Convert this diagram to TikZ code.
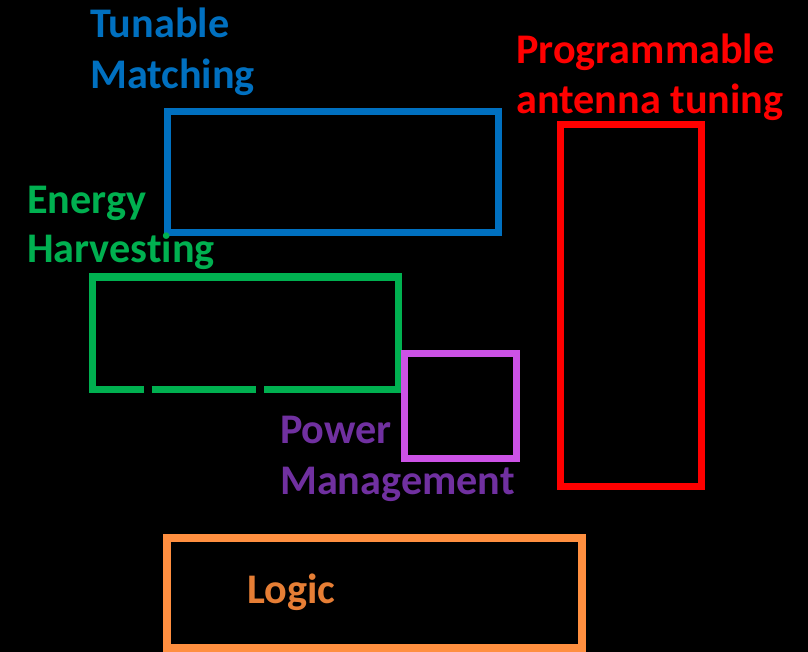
\documentclass[tikz,border=0pt]{standalone}
\usepackage{fontspec}
\setmainfont{Carlito}[Ligatures=NoCommon]
\definecolor{cblue}{HTML}{0070C0}
\definecolor{cred}{HTML}{FF0000}
\definecolor{cgreen}{HTML}{00B050}
\definecolor{cpurplebox}{HTML}{CC52E6}
\definecolor{cpurpletxt}{HTML}{7030A0}
\definecolor{corangebox}{HTML}{FF8F40}
\definecolor{corangetxt}{HTML}{E67E35}
\begin{document}
\begin{tikzpicture}[x=1pt,y=-1pt,
  lbl/.style={inner sep=0pt,anchor=base west,font=\fontsize{42.2}{50}\selectfont\bfseries},
  frame/.style={line width=7pt,miter limit=10}]
\fill[black] (0,0) rectangle (808,652);
\useasboundingbox (0,0) rectangle (808,652);
% boxes
\draw[frame,cblue] (167.5,111.5) rectangle (498.5,232.5);
\draw[frame,cred] (560.5,124.5) rectangle (701.5,486.5);
\draw[frame,cgreen] (144,389) -- (92,389) -- (92,277) -- (398,277) -- (398,389) -- (264,389);
\draw[frame,cgreen] (151.7,389) -- (256,389);
\draw[frame,cpurplebox] (404,353) rectangle (516.5,458);
\draw[frame,corangebox,line width=8pt] (166.5,537.5) rectangle (582,647.5);
% labels
\node[lbl,text=cblue] (tm1) at (90,38) {Tunable};
\node[lbl,text=cblue] (tm2) at (90,89) {Matching};
\node[lbl,text=cred] (pa1) at (516,64) {Programmable};
\node[lbl,text=cred] (pa2) at (516,114) {antenna tuning};
\node[lbl,text=cgreen] (eh1) at (27,214) {Energy};
\node[lbl,text=cgreen] (eh2) at (27,263) {Harvesting};
\node[lbl,text=cpurpletxt] (pm1) at (280,443) {Power};
\node[lbl,text=cpurpletxt] (pm2) at (280,494) {Management};
\node[lbl,text=corangetxt] (lg) at (247,603) {Logic};
\end{tikzpicture}
\end{document}
